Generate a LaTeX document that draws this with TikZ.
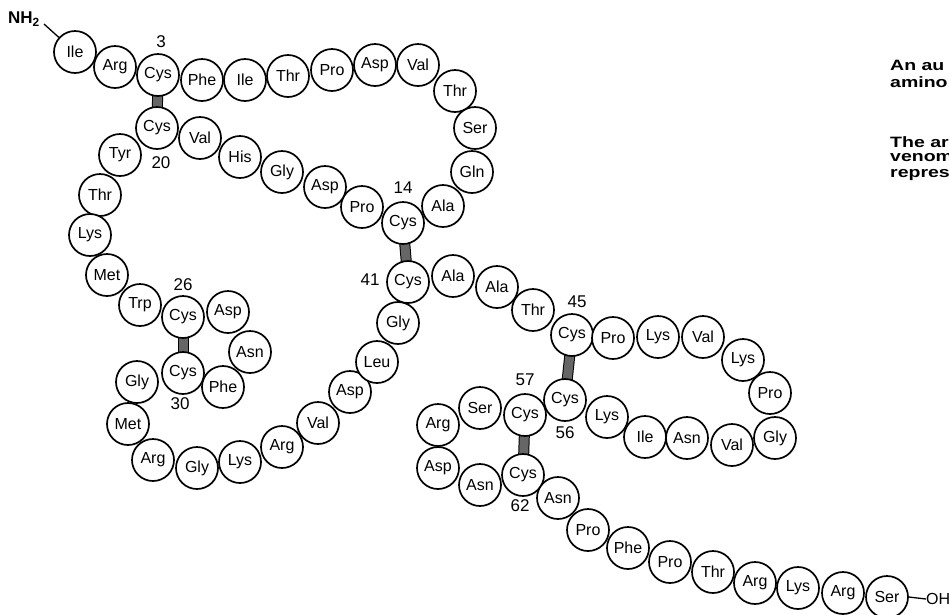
\documentclass[tikz,border=0pt]{standalone}
\usepackage{fontspec}
\setmainfont{Liberation Sans}
\pgfdeclarelayer{bg}
\pgfsetlayers{bg,main}
\begin{document}
\begin{tikzpicture}[x=1pt,y=-1pt,
  aa/.style={circle,draw,fill=white,line width=1.7pt,minimum size=42pt,inner sep=0pt,
             font=\fontsize{16}{16}\selectfont},
  bridge/.style={line width=1pt,double=black!60,double distance=9pt},
  num/.style={font=\fontsize{17}{17}\selectfont,inner sep=0pt},
  capt/.style={anchor=west,inner sep=0pt,font=\bfseries\fontsize{15}{15}\selectfont},
  link/.style={line width=1.3pt}]
\useasboundingbox (0,0) rectangle (949,614);
\clip (0,0) rectangle (949,614);
\foreach \t/\x/\y [count=\i] in {
  Ile/75/52, Arg/115/67, Cys/158/75, Phe/202/80, Ile/245/80, Thr/288/76,
  Pro/332/70, Asp/375/65, Val/418/65, Thr/455/91, Ser/475/128, Gln/472/172,
  Ala/443/206, Cys/403/223, Pro/362/207, Asp/325/187, Gly/282/172, His/240/157,
  Val/200/138, Cys/157/128, Tyr/120/155, Thr/100/195, Lys/90/235, Met/107/275,
  Trp/140/305, Cys/183/317, Asp/228/312, Asn/250/352, Phe/223/387, Cys/183/373,
  Gly/137/382, Met/128/424, Arg/153/460, Gly/197/468, Lys/240/462, Arg/282/447,
  Val/318/423, Asp/350/392, Leu/377/362, Gly/398/323, Cys/408/282, Ala/453/276,
  Ala/497/287, Thr/533/310, Cys/572/335, Pro/613/338, Lys/658/337, Val/703/337,
  Lys/743/360, Pro/770/393, Gly/775/438, Val/732/445, Asn/687/438, Ile/645/437,
  Lys/607/417, Cys/565/400, Cys/525/415, Ser/480/408, Arg/438/425, Asp/438/468,
  Asn/480/485, Cys/523/475, Asn/558/498, Pro/588/530, Phe/628/548, Pro/670/562,
  Thr/713/572, Arg/755/583, Lys/798/588, Arg/843/593, Ser/887/597}
  \node[aa] (a\i) at (\x,\y) {\t};
% disulfide bridges
\begin{pgfonlayer}{bg}
  \draw[bridge] (a3.center) -- (a20.center);
  \draw[bridge] (a14.center) -- (a41.center);
  \draw[bridge] (a26.center) -- (a30.center);
  \draw[bridge] (a45.center) -- (a56.center);
  \draw[bridge] (a57.center) -- (a62.center);
\end{pgfonlayer}
% residue numbers
\node[num] (n3)  at (161,42)  {3};
\node[num] (n20) at (161,163) {20};
\node[num] (n14) at (403,188) {14};
\node[num] (n41) at (370,280) {41};
\node[num] (n26) at (183,285) {26};
\node[num] (n30) at (180,404) {30};
\node[num] (n45) at (577,302) {45};
\node[num] (n57) at (525,380) {57};
\node[num] (n56) at (565,433) {56};
\node[num] (n62) at (520,506) {62};
% termini
\node[font=\bfseries\fontsize{17}{17}\selectfont,inner sep=0pt] (nh) at (24,19) {NH\textsubscript{2}};
\coordinate (nhend) at (44,24);
\draw[link] (nhend) -- (a1);
\node[font=\fontsize{16}{16}\selectfont,inner sep=0pt,anchor=west] (oh) at (926,599) {OH};
\draw[link] (a71.east) -- (oh.west);
% caption (cut off at the right edge, as in the reference)
\node[capt] (c1) at (890,65)  {\scalebox{1.3}[1]{An au}};
\node[capt] (c2) at (890,82)  {\scalebox{1.3}[1]{amino}};
\node[capt] (c3) at (890,142) {\scalebox{1.3}[1]{The ar}};
\node[capt] (c4) at (890,158) {\scalebox{1.3}[1]{venom}};
\node[capt] (c5) at (890,175) {\scalebox{1.3}[1]{repres}};
\end{tikzpicture}
\end{document}
